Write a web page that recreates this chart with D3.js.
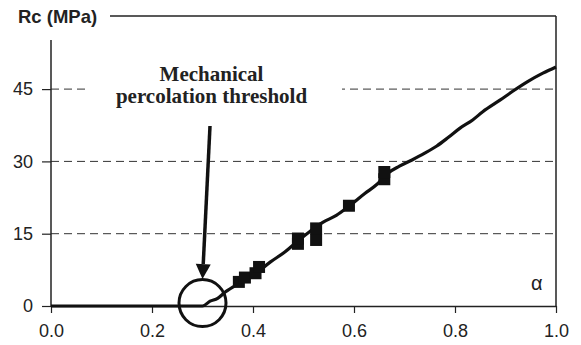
<!DOCTYPE html>
<html>
<head>
<meta charset="utf-8">
<script src="https://cdn.jsdelivr.net/npm/d3@7"></script>
<style>
  html, body { margin: 0; padding: 0; background: #fff; }
  svg { display: block; }
</style>
</head>
<body>
<svg id="chart" width="581" height="345"></svg>
<script>
// Compressive strength Rc versus hydration degree alpha
const curveAlpha = [0.00, 0.30, 0.315, 0.33, 0.345, 0.374, 0.404, 0.434, 0.463, 0.489, 0.512, 0.539, 0.565, 0.59, 0.622, 0.645, 0.665, 0.69, 0.715, 0.74, 0.764, 0.787, 0.81, 0.835, 0.855, 0.889, 0.915, 0.943, 0.974, 1.0];
const curveRc    = [0.0, 0.0, 1.0, 1.6, 2.9, 4.8, 6.6, 9.1, 11.2, 13.5, 15.4, 17.4, 18.8, 20.7, 23.4, 25.2, 27.4, 29.0, 30.3, 31.7, 33.2, 35.0, 36.9, 38.6, 40.3, 42.7, 44.6, 46.5, 48.3, 49.6];

// Measured points
const measAlpha = [0.372, 0.384, 0.405, 0.412, 0.489, 0.489, 0.525, 0.525, 0.59, 0.66, 0.66];
const measRc    = [5.0, 5.9, 6.8, 8.1, 12.9, 14.0, 13.7, 16.1, 20.8, 26.3, 27.8];

const xTicks = [0, 0.2, 0.4, 0.6, 0.8, 1.0];
const yTicks = [0, 15, 30, 45];
const gridValues = [15, 30, 45];

const thresholdAlpha = 0.30;
const thresholdRc = 0.6;
const noteLines = ["Mechanical", "percolation threshold"];
const yTitle = "Rc (MPa)";
const xTitle = "\u03b1";

const svg = d3.select("#chart");

const x = d3.scaleLinear().domain([0, 1]).range([51, 556]);
const y = d3.scaleLinear().domain([0, 45]).range([306, 89.1]);

const axisColor = "#222";

// dashed horizontal gridlines
svg.append("g")
  .selectAll("line")
  .data(gridValues)
  .join("line")
  .attr("x1", x(0)).attr("x2", x(1))
  .attr("y1", d => y(d)).attr("y2", d => y(d))
  .attr("stroke", "#333")
  .attr("stroke-width", 1)
  .attr("stroke-dasharray", "8,5");

// white box behind the annotation text
svg.append("rect")
  .attr("x", 86).attr("y", 58)
  .attr("width", 256).attr("height", 52)
  .attr("fill", "#fff");

// frame: top and right edges
svg.append("line")
  .attr("x1", 110).attr("x2", x(1))
  .attr("y1", 16).attr("y2", 16)
  .attr("stroke", axisColor).attr("stroke-width", 1.5);
svg.append("line")
  .attr("x1", x(1)).attr("x2", x(1))
  .attr("y1", 16).attr("y2", y(0))
  .attr("stroke", axisColor).attr("stroke-width", 1.5);

// x axis
const xAxis = svg.append("g")
  .attr("transform", `translate(0,${y(0)})`)
  .call(d3.axisBottom(x).tickValues(xTicks).tickFormat(d3.format(".1f")).tickSize(7).tickSizeOuter(0).tickPadding(11));
xAxis.select(".domain").attr("stroke", axisColor).attr("stroke-width", 1.5);
xAxis.selectAll(".tick line").attr("stroke", axisColor).attr("stroke-width", 1.2);
xAxis.selectAll(".tick text")
  .attr("font-family", "Liberation Sans, Arial, sans-serif")
  .attr("font-size", 18).attr("fill", "#222");

// y axis
const yAxis = svg.append("g")
  .attr("transform", `translate(${x(0)},0)`)
  .call(d3.axisLeft(y).tickValues(yTicks).tickSize(9).tickSizeOuter(0).tickPadding(9));
yAxis.select(".domain").remove();
yAxis.append("line")
  .attr("x1", 0).attr("x2", 0)
  .attr("y1", 40).attr("y2", y(0))
  .attr("stroke", axisColor).attr("stroke-width", 1.5);
yAxis.selectAll(".tick line").attr("stroke", axisColor).attr("stroke-width", 1.2);
yAxis.selectAll(".tick text")
  .attr("font-family", "Liberation Sans, Arial, sans-serif")
  .attr("font-size", 18).attr("fill", "#222");

// axis titles
svg.append("text")
  .attr("x", 18).attr("y", 22.5)
  .attr("font-family", "Liberation Sans, Arial, sans-serif")
  .attr("font-weight", "bold")
  .attr("font-size", 18.5)
  .attr("fill", "#222")
  .text(yTitle);
svg.append("text")
  .attr("x", 531).attr("y", 290)
  .attr("font-family", "Liberation Sans, Arial, sans-serif")
  .attr("font-size", 20)
  .attr("fill", "#222")
  .text(xTitle);

// model curve
const curveData = curveAlpha.map((a, i) => [a, curveRc[i]]);
svg.append("path")
  .datum(curveData)
  .attr("d", d3.line().x(d => x(d[0])).y(d => y(d[1])).curve(d3.curveMonotoneX))
  .attr("fill", "none")
  .attr("stroke", "#111")
  .attr("stroke-width", 3.2)
  .attr("stroke-linejoin", "round");

// measured values
const sq = 12;
svg.append("g")
  .selectAll("rect")
  .data(measAlpha.map((a, i) => [a, measRc[i]]))
  .join("rect")
  .attr("x", d => x(d[0]) - sq / 2)
  .attr("y", d => y(d[1]) - sq / 2)
  .attr("width", sq).attr("height", sq)
  .attr("fill", "#111");

// threshold circle
svg.append("circle")
  .attr("cx", x(thresholdAlpha)).attr("cy", y(thresholdRc))
  .attr("r", 23.5)
  .attr("fill", "none")
  .attr("stroke", "#111")
  .attr("stroke-width", 3);

// annotation text
svg.append("text")
  .attr("x", 211.5).attr("y", 81)
  .attr("text-anchor", "middle")
  .attr("font-family", "Liberation Serif, Times New Roman, serif")
  .attr("font-weight", "bold")
  .attr("font-size", 21)
  .attr("fill", "#222")
  .selectAll("tspan")
  .data(noteLines)
  .join("tspan")
  .attr("x", 211.5)
  .attr("dy", (d, i) => i === 0 ? 0 : 22)
  .text(d => d);

// arrow to the circle
const tipX = x(thresholdAlpha), tipY = 279;
const startX = 210, startY = 126;
const ang = Math.atan2(tipY - startY, tipX - startX);
const headLen = 15, headHalf = 7.5;
const baseX = tipX - headLen * Math.cos(ang), baseY = tipY - headLen * Math.sin(ang);
svg.append("line")
  .attr("x1", startX).attr("y1", startY)
  .attr("x2", baseX).attr("y2", baseY)
  .attr("stroke", "#111").attr("stroke-width", 3.5);
svg.append("path")
  .attr("d", d3.line()([
    [tipX, tipY],
    [baseX + headHalf * Math.sin(ang), baseY - headHalf * Math.cos(ang)],
    [baseX - headHalf * Math.sin(ang), baseY + headHalf * Math.cos(ang)]
  ]) + "Z")
  .attr("fill", "#111");
</script>
</body>
</html>
